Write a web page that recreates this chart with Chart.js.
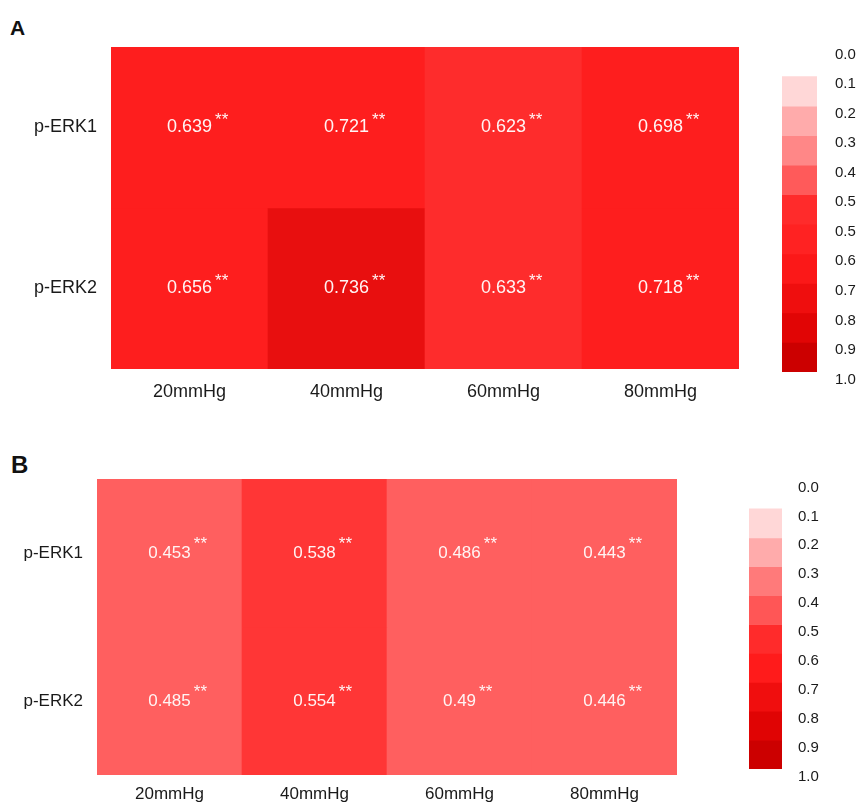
<!DOCTYPE html>
<html>
<head>
<meta charset="utf-8">
<script src="https://cdn.jsdelivr.net/npm/chart.js@4.4.1/dist/chart.umd.min.js"></script>
<style>
  html, body { margin: 0; padding: 0; background: #ffffff; }
  #wrap { position: relative; width: 861px; height: 803px; overflow: hidden; font-family: "Liberation Sans", Arial, sans-serif; }
  canvas { position: absolute; }
  .panel { position: absolute; font-weight: bold; color: #111; font-family: "Liberation Sans", Arial, sans-serif; }
</style>
</head>
<body>
<div id="wrap">
  <div class="panel" style="left:10px; top:16px; font-size:21px;">A</div>
  <div class="panel" style="left:11px; top:451px; font-size:24px;">B</div>
  <canvas id="heatA" width="750" height="420" style="left:0px; top:0px;"></canvas>
  <canvas id="barA" width="101" height="420" style="left:760px; top:0px;"></canvas>
  <canvas id="heatB" width="730" height="373" style="left:0px; top:430px;"></canvas>
  <canvas id="barB" width="131" height="373" style="left:730px; top:430px;"></canvas>
</div>
<script>
// ---------- data ----------
const pressures = ['20mmHg', '40mmHg', '60mmHg', '80mmHg'];
const proteins = ['p-ERK1', 'p-ERK2'];

const valuesA_ERK1 = [0.639, 0.721, 0.623, 0.698];
const valuesA_ERK2 = [0.656, 0.736, 0.633, 0.718];
const valuesB_ERK1 = [0.453, 0.538, 0.486, 0.443];
const valuesB_ERK2 = [0.485, 0.554, 0.49, 0.446];
const significance = '**';

const legendLabelsA = ['0.0', '0.1', '0.2', '0.3', '0.4', '0.5', '0.5', '0.6', '0.7', '0.8', '0.9', '1.0'];
const legendLabelsB = ['0.0', '0.1', '0.2', '0.3', '0.4', '0.5', '0.6', '0.7', '0.8', '0.9', '1.0'];

// ---------- styles ----------
const legendColorsA = ['#ffd7d7', '#ffabab', '#ff8787', '#ff5a5a', '#ff2b2b', '#ff2222', '#fb1818', '#ef0e0e', '#e10505', '#cc0000'];
const legendColorsB = ['#ffd7d7', '#ffabab', '#ff7a7a', '#ff5656', '#ff2b2b', '#ff1b1b', '#f00e0e', '#e00404', '#cc0000'];
// binned colour scales (upper bound, colour)
const binsA = [[0.635, '#fe2c2c'], [0.73, '#fe1e1e'], [1.01, '#e80f0f']];
const binsB = [[0.5, '#ff5f5f'], [1.01, '#ff3636']];

function colorFor(v, bins) {
  for (const [ub, c] of bins) if (v < ub) return c;
  return bins[bins.length - 1][1];
}

const FONT = '"Liberation Sans", Arial, sans-serif';

const cellLabelPlugin = {
  id: 'cellLabels',
  afterDatasetsDraw(chart, args, opts) {
    const ctx = chart.ctx;
    ctx.save();
    chart.data.datasets.forEach((ds, di) => {
      const meta = chart.getDatasetMeta(di);
      meta.data.forEach((el, i) => {
        const v = ds.cellValues[i];
        const cx = el.x;
        const cy = (el.y + el.base) / 2;
        const txt = String(v);
        ctx.fillStyle = opts.color;
        ctx.font = opts.size + 'px ' + FONT;
        ctx.textAlign = 'center';
        ctx.textBaseline = 'middle';
        ctx.fillText(txt, cx, cy);
        const w = ctx.measureText(txt).width;
        ctx.font = opts.starSize + 'px ' + FONT;
        ctx.textAlign = 'left';
        ctx.fillText(significance, cx + w / 2 + 3, cy - opts.starRise);
      });
    });
    ctx.restore();
  }
};

function makeHeat(id, v1, v2, bins, area, fontSize, tickPadY, tickPadX, starRise) {
  const canvas = document.getElementById(id);
  const W = canvas.width, H = canvas.height;
  return new Chart(canvas, {
    type: 'bar',
    data: {
      labels: pressures,
      datasets: [
        { label: proteins[0], data: pressures.map(() => [1, 2]), cellValues: v1,
          backgroundColor: v1.map(v => colorFor(v, bins)), grouped: false,
          barPercentage: 1, categoryPercentage: 1, borderWidth: 0 },
        { label: proteins[1], data: pressures.map(() => [0, 1]), cellValues: v2,
          backgroundColor: v2.map(v => colorFor(v, bins)), grouped: false,
          barPercentage: 1, categoryPercentage: 1, borderWidth: 0 }
      ]
    },
    options: {
      responsive: false,
      animation: false,
      devicePixelRatio: 1,
      layout: { padding: { top: area.top, right: W - area.right, left: 0, bottom: 0 } },
      plugins: {
        legend: { display: false },
        tooltip: { enabled: false },
        cellLabels: { color: '#fff4f4', size: fontSize, starSize: 17, starRise: starRise }
      },
      scales: {
        x: {
          grid: { display: false, drawTicks: false },
          border: { display: false },
          ticks: { color: '#1a1a1a', font: { family: FONT, size: fontSize }, padding: tickPadX, maxRotation: 0 },
          afterFit(s) { s.height = H - area.bottom; }
        },
        y: {
          min: 0, max: 2,
          grid: { display: false, drawTicks: false },
          border: { display: false },
          afterBuildTicks(s) { s.ticks = [{ value: 0.5 }, { value: 1.5 }]; },
          ticks: {
            color: '#1a1a1a', font: { family: FONT, size: fontSize }, padding: tickPadY,
            callback: (v) => v === 1.5 ? proteins[0] : (v === 0.5 ? proteins[1] : '')
          },
          afterFit(s) { s.width = area.left; }
        }
      }
    },
    plugins: [cellLabelPlugin]
  });
}

function makeLegend(id, labels, colors, area, fontSize, pad) {
  const canvas = document.getElementById(id);
  const W = canvas.width, H = canvas.height;
  const offset = labels.length - 1 - colors.length; // first box starts after this many tick steps
  return new Chart(canvas, {
    type: 'bar',
    data: {
      labels: [''],
      datasets: colors.map((c, k) => ({
        data: [[offset + k, offset + k + 1]],
        backgroundColor: c, grouped: false, borderWidth: 0,
        barPercentage: 1, categoryPercentage: 1
      }))
    },
    options: {
      responsive: false,
      animation: false,
      devicePixelRatio: 1,
      layout: { padding: { top: area.top, left: area.left, bottom: H - area.bottom, right: 0 } },
      plugins: { legend: { display: false }, tooltip: { enabled: false } },
      scales: {
        x: { display: false },
        y: {
          position: 'right', reverse: true, min: 0, max: labels.length - 1,
          grid: { display: false, drawTicks: false },
          border: { display: false },
          afterBuildTicks(s) { s.ticks = labels.map((_, i) => ({ value: i })); },
          ticks: {
            color: '#1a1a1a', font: { family: FONT, size: fontSize }, padding: pad, align: 'start',
            callback: (v) => labels[v]
          },
          afterFit(s) { s.width = W - area.right; }
        }
      }
    }
  });
}

makeHeat('heatA', valuesA_ERK1, valuesA_ERK2, binsA, { left: 111, right: 739, top: 47, bottom: 369 }, 18, 14, 12, 7);
makeHeat('heatB', valuesB_ERK1, valuesB_ERK2, binsB, { left: 97, right: 677, top: 49, bottom: 345 }, 17, 14, 9, 9);
makeLegend('barA', legendLabelsA, legendColorsA, { left: 22, right: 57, top: 47, bottom: 372 }, 15, 18);
makeLegend('barB', legendLabelsB, legendColorsB, { left: 19, right: 52, top: 50, bottom: 343 }, 15, 16);
</script>
</body>
</html>
